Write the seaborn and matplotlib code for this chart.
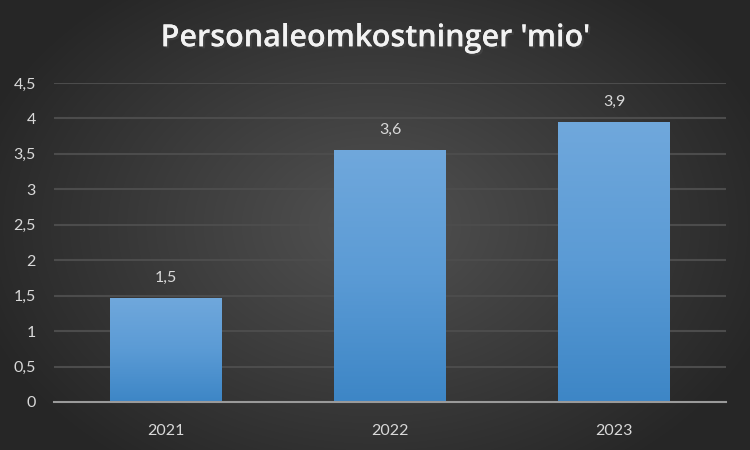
import numpy as np
import pandas as pd
import matplotlib
matplotlib.use("Agg")
import matplotlib.pyplot as plt
import matplotlib.patheffects as pe
from matplotlib.colors import LinearSegmentedColormap
import seaborn as sns

# ---- data ----
years = ["2021", "2022", "2023"]
values = [1.47, 3.56, 3.95]
labels = ["1,5", "3,6", "3,9"]
yticks = [0, 0.5, 1, 1.5, 2, 2.5, 3, 3.5, 4, 4.5]
ytick_labels = ["0", "0,5", "1", "1,5", "2", "2,5", "3", "3,5", "4", "4,5"]
title = "Personaleomkostninger 'mio'"

sns.set_theme(style="white")
plt.rcParams["font.family"] = ["Lato", "DejaVu Sans"]

fig = plt.figure(figsize=(7.5, 4.5), dpi=100)

# radial gradient background
bg = fig.add_axes([0, 0, 1, 1], zorder=-10)
yy, xx = np.mgrid[0:450, 0:750]
r = np.sqrt(((xx - 375) / 420.0) ** 2 + ((yy - 225) / 300.0) ** 2)
r = np.clip(r, 0, 1)
c_in = np.array([0x52, 0x52, 0x52]) / 255
c_out = np.array([0x26, 0x26, 0x26]) / 255
img = c_in[None, None, :] * (1 - r[..., None]) + c_out[None, None, :] * r[..., None]
bg.imshow(img, extent=[0, 1, 0, 1], aspect="auto")
bg.set_axis_off()

ax = fig.add_axes([0.072, 0.1067, 0.896, 0.709])
ax.patch.set_alpha(0)
df = pd.DataFrame({"year": years, "value": values})
sns.barplot(data=df, x="year", y="value", ax=ax, width=0.5, color="#5b9bd5",
            saturation=1, zorder=3)

ax.set_ylim(0, 4.5)
ax.set_xlim(-0.5, 2.5)
ax.set_yticks(yticks)
ax.set_yticklabels(ytick_labels)
ax.set_xlabel("")
ax.set_ylabel("")
ax.tick_params(axis="both", colors="#d9d9d9", labelsize=11.5, length=0)
ax.tick_params(axis="y", pad=13)
ax.tick_params(axis="x", pad=16)
for s in ["top", "right", "left"]:
    ax.spines[s].set_visible(False)
ax.spines["bottom"].set_color("#9a9a9a")
ax.spines["bottom"].set_linewidth(1.5)
ax.spines["bottom"].set_zorder(5)
for t in yticks[1:]:
    ax.axhline(t, color="#4c4c4c", lw=1.5, zorder=1)

# gradient fill on bars
cmap = LinearSegmentedColormap.from_list("bar", ["#3d86c6", "#5b9bd5", "#70a8dc"])
grad = np.linspace(0, 1, 256).reshape(-1, 1)
for p, lab in zip(ax.patches, labels):
    x0, w, h = p.get_x(), p.get_width(), p.get_height()
    p.set_edgecolor("none")
    im = ax.imshow(grad, cmap=cmap, extent=[x0, x0 + w, 0, h], origin="lower",
                   aspect="auto", zorder=4)
    im.set_clip_path(p)
    ax.text(x0 + w / 2, h + 0.18, lab, ha="center", va="bottom",
            color="#d9d9d9", fontsize=11.5, zorder=6)
ax.set_xlim(-0.5, 2.5)
ax.set_ylim(0, 4.5)

fig.text(0.5, 0.915, title, ha="center", va="center", color="#f2f2f2",
         fontsize=22, fontweight="semibold", family=["Open Sans", "DejaVu Sans"],
         path_effects=[pe.withSimplePatchShadow(offset=(1.5, -1.5), alpha=0.6),
                       pe.Normal()])

fig.savefig("out.png", dpi=100)
